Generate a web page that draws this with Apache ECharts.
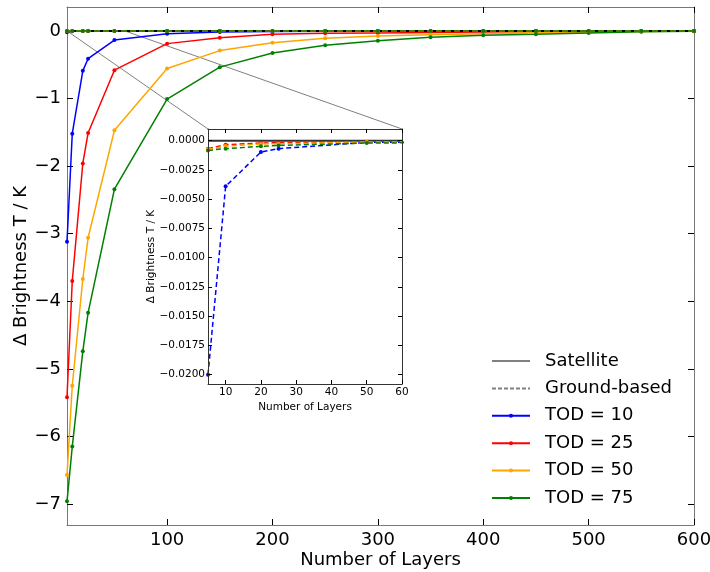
<!DOCTYPE html>
<html><head><meta charset="utf-8">
<script src="https://cdn.jsdelivr.net/npm/echarts@6/dist/echarts.min.js"></script>
<style>html,body{margin:0;padding:0;background:#fff}#c{width:710px;height:572px}</style>
</head><body><div id="c"></div>
<script>
const layers = [5,10,20,25,50,100,150,200,250,300,350,400,450,500,550,600];
const todNames = ['TOD = 10','TOD = 25','TOD = 50','TOD = 75'];
const todColors = ['#0000ff','#ff0000','#ffa500','#008000'];
// Satellite (solid) brightness temperature differences, K
const sat10 = [-3.12,-1.52,-0.59,-0.41,-0.135,-0.04,-0.015,-0.006,-0.004,-0.003,-0.002,-0.002,-0.001,-0.001,-0.001,0];
const sat25 = [-5.42,-3.70,-1.96,-1.51,-0.58,-0.187,-0.099,-0.05,-0.035,-0.028,-0.022,-0.015,-0.01,-0.006,-0.004,-0.001];
const sat50 = [-6.57,-5.25,-3.67,-3.06,-1.47,-0.556,-0.29,-0.173,-0.108,-0.074,-0.054,-0.039,-0.025,-0.015,-0.006,-0.001];
const sat75 = [-6.96,-6.15,-4.74,-4.17,-2.34,-1.007,-0.535,-0.325,-0.212,-0.143,-0.094,-0.064,-0.049,-0.03,-0.012,-0.002];
// Ground-based (dashed)
const gnd10 = [-0.0200,-0.0039,-0.00097,-0.00068,-0.00014,-0.0001,-0.00008,-0.00006,-0.00005,-0.00004,-0.00003,-0.00003,-0.00002,-0.00002,-0.00001,0];
const gnd25 = [-0.00068,-0.00034,-0.0002,-0.00017,-0.0001,-0.00008,-0.00006,-0.00005,-0.00004,-0.00003,-0.00003,-0.00002,-0.00002,-0.00001,-0.00001,0];
const gnd50 = [-0.00074,-0.00046,-0.00028,-0.00026,-0.00011,-0.00008,-0.00006,-0.00005,-0.00004,-0.00003,-0.00003,-0.00002,-0.00002,-0.00001,-0.00001,0];
const gnd75 = [-0.00083,-0.00068,-0.00048,-0.0004,-0.0002,-0.00012,-0.00009,-0.00007,-0.00005,-0.00004,-0.00003,-0.00003,-0.00002,-0.00002,-0.00001,0];
const mainXTicks = [100,200,300,400,500,600];
const mainYTicks = [0,-1,-2,-3,-4,-5,-6,-7];
const insetXTicks = [10,20,30,40,50,60];
const insetYTicks = [0,-0.0025,-0.005,-0.0075,-0.01,-0.0125,-0.015,-0.0175,-0.02];

const satAll = [sat10,sat25,sat50,sat75];
const gndAll = [gnd10,gnd25,gnd50,gnd75];
const FONT = 'DejaVu Sans';
const pairs = ys => layers.map((x,i)=>[x, ys[i]]);
const minus = s => String(s).replace('-', '\u2212');

const chart = echarts.init(document.getElementById('c'), null, {renderer:'canvas'});

const MAIN_Y = [-7.31, 0.355];
const INS_Y = [-0.0208, 0.001];

function axisBase(extra){
  return Object.assign({
    type:'value', splitLine:{show:false}, nameMoveOverlap:false,
    axisLine:{show:true, onZero:false, lineStyle:{color:'#777', width:1}},
  }, extra);
}

const xAxes = [
  axisBase({gridIndex:0, position:'bottom', min:5, max:600,
    axisTick:{show:true, inside:true, length:6, customValues:mainXTicks, lineStyle:{color:'#000'}},
    axisLabel:{show:true, customValues:mainXTicks, fontSize:18, fontFamily:FONT, color:'#000', margin:6},
    name:'Number of Layers', nameLocation:'middle', nameGap:26,
    nameTextStyle:{fontSize:18, fontFamily:FONT, color:'#000'}}),
  axisBase({gridIndex:0, position:'top', min:5, max:600,
    axisTick:{show:true, inside:true, length:6, customValues:mainXTicks, lineStyle:{color:'#000'}},
    axisLabel:{show:false}}),
  axisBase({gridIndex:1, position:'bottom', min:5, max:60, z:12,
    axisLine:{show:true, onZero:false, lineStyle:{color:'#333', width:1}},
    axisTick:{show:true, inside:true, length:4, customValues:insetXTicks, lineStyle:{color:'#000'}},
    axisLabel:{show:true, customValues:insetXTicks, fontSize:10.5, fontFamily:FONT, color:'#000', margin:3},
    name:'Number of Layers', nameLocation:'middle', nameGap:18,
    nameTextStyle:{fontSize:10.5, fontFamily:FONT, color:'#000'}}),
  axisBase({gridIndex:1, position:'top', min:5, max:60, z:12,
    axisLine:{show:true, onZero:false, lineStyle:{color:'#333', width:1}},
    axisTick:{show:true, inside:true, length:4, customValues:insetXTicks, lineStyle:{color:'#000'}},
    axisLabel:{show:false}})
];
const yAxes = [
  axisBase({gridIndex:0, position:'left', min:MAIN_Y[0], max:MAIN_Y[1],
    axisTick:{show:true, inside:true, length:6, customValues:mainYTicks, lineStyle:{color:'#000'}},
    axisLabel:{show:true, customValues:mainYTicks, fontSize:18, fontFamily:FONT, color:'#000', margin:6,
      formatter:v=>minus(v)},
    name:'\u0394 Brightness T / K', nameLocation:'middle', nameGap:37, nameRotate:90,
    nameTextStyle:{fontSize:18, fontFamily:FONT, color:'#000'}}),
  axisBase({gridIndex:0, position:'right', min:MAIN_Y[0], max:MAIN_Y[1],
    axisTick:{show:true, inside:true, length:6, customValues:mainYTicks, lineStyle:{color:'#000'}},
    axisLabel:{show:false}}),
  axisBase({gridIndex:1, position:'left', min:INS_Y[0], max:INS_Y[1], z:12,
    axisLine:{show:true, onZero:false, lineStyle:{color:'#333', width:1}},
    axisTick:{show:true, inside:true, length:4, customValues:insetYTicks, lineStyle:{color:'#000'}},
    axisLabel:{show:true, customValues:insetYTicks, fontSize:10.5, fontFamily:FONT, color:'#000', margin:3,
      formatter:v=>minus(Number(v).toFixed(4))},
    name:'\u0394 Brightness T / K', nameLocation:'middle', nameGap:51, nameRotate:90,
    nameTextStyle:{fontSize:10.5, fontFamily:FONT, color:'#000'}}),
  axisBase({gridIndex:1, position:'right', min:INS_Y[0], max:INS_Y[1], z:12,
    axisLine:{show:true, onZero:false, lineStyle:{color:'#333', width:1}},
    axisTick:{show:true, inside:true, length:4, customValues:insetYTicks, lineStyle:{color:'#000'}},
    axisLabel:{show:false}})
];

const series = [];
// legend-only style entries
series.push({name:'Satellite', type:'line', data:[], symbol:'none', color:'#808080', lineStyle:{color:'#808080', width:1.5, type:'solid'}});
series.push({name:'Ground-based', type:'line', data:[], symbol:'none', color:'#808080', lineStyle:{color:'#808080', width:1.2, type:[4,2]}});
// satellite lines (main)
satAll.forEach((ys,i)=>{
  series.push({name:todNames[i], type:'line', xAxisIndex:0, yAxisIndex:0, data:pairs(ys),
    color:todColors[i], symbol:'circle', symbolSize:4, z:2,
    lineStyle:{width:1.5, color:todColors[i]}, itemStyle:{color:todColors[i]}});
});
// zero line main
series.push({name:'zero', type:'line', xAxisIndex:0, yAxisIndex:0, data:[[5,0],[600,0]],
  symbol:'none', z:3, lineStyle:{color:'#000', width:1.8}, silent:true});
// ground-based lines (main)
gndAll.forEach((ys,i)=>{
  series.push({name:todNames[i], type:'line', xAxisIndex:0, yAxisIndex:0, data:pairs(ys),
    color:todColors[i], symbol:'circle', symbolSize:4, z:4,
    lineStyle:{width:1.5, type:'dashed', color:todColors[i]}, itemStyle:{color:todColors[i]}});
});
// inset zero line
series.push({name:'zero2', type:'line', xAxisIndex:2, yAxisIndex:2, data:[[5,0],[60,0]],
  symbol:'none', z:11, lineStyle:{color:'#333', width:2}, silent:true});
// inset ground-based
gndAll.forEach((ys,i)=>{
  series.push({name:todNames[i], type:'line', xAxisIndex:2, yAxisIndex:2, data:pairs(ys),
    color:todColors[i], symbol:'circle', symbolSize:4, z:11, clip:true,
    lineStyle:{width:1.5, type:[5,3], color:todColors[i]}, itemStyle:{color:todColors[i]}});
});

const hidden = {color:'rgba(0,0,0,0)', borderWidth:0, opacity:0};
const option = {
  animation:false,
  backgroundColor:'#fff',
  grid:[
    {left:67, right:16, top:7, bottom:47, containLabel:false, outerBoundsMode:'none'},
    {left:208, top:129, width:194, height:255, show:true, backgroundColor:'#fff', borderWidth:0, z:10, containLabel:false, outerBoundsMode:'none'}
  ],
  xAxis:xAxes, yAxis:yAxes, series,
  legend:{
    show:true, orient:'vertical', left:486, top:347,
    data:[{name:'Satellite', itemStyle:hidden},{name:'Ground-based', itemStyle:hidden}].concat(todNames),
    itemWidth:38, itemHeight:5, itemGap:9.4,
    itemStyle:{borderWidth:0},
    textStyle:{fontSize:18, fontFamily:FONT, color:'#000', lineHeight:18, padding:[0,0,0,10]},
    selectedMode:false
  }
};
chart.setOption(option);

// inset connector lines
const a1 = chart.convertToPixel({xAxisIndex:0, yAxisIndex:0}, [5, INS_Y[1]]);
const a2 = chart.convertToPixel({xAxisIndex:0, yAxisIndex:0}, [60, INS_Y[1]]);
const b1 = chart.convertToPixel({xAxisIndex:2, yAxisIndex:2}, [5, INS_Y[1]]);
const b2 = chart.convertToPixel({xAxisIndex:2, yAxisIndex:2}, [60, INS_Y[1]]);
chart.setOption({graphic:[
  {type:'line', z:1, shape:{x1:a1[0],y1:a1[1],x2:b1[0],y2:b1[1]}, style:{stroke:'#808080', lineWidth:1}},
  {type:'line', z:1, shape:{x1:a2[0],y1:a2[1],x2:b2[0],y2:b2[1]}, style:{stroke:'#808080', lineWidth:1}}
]});
</script></body></html>
